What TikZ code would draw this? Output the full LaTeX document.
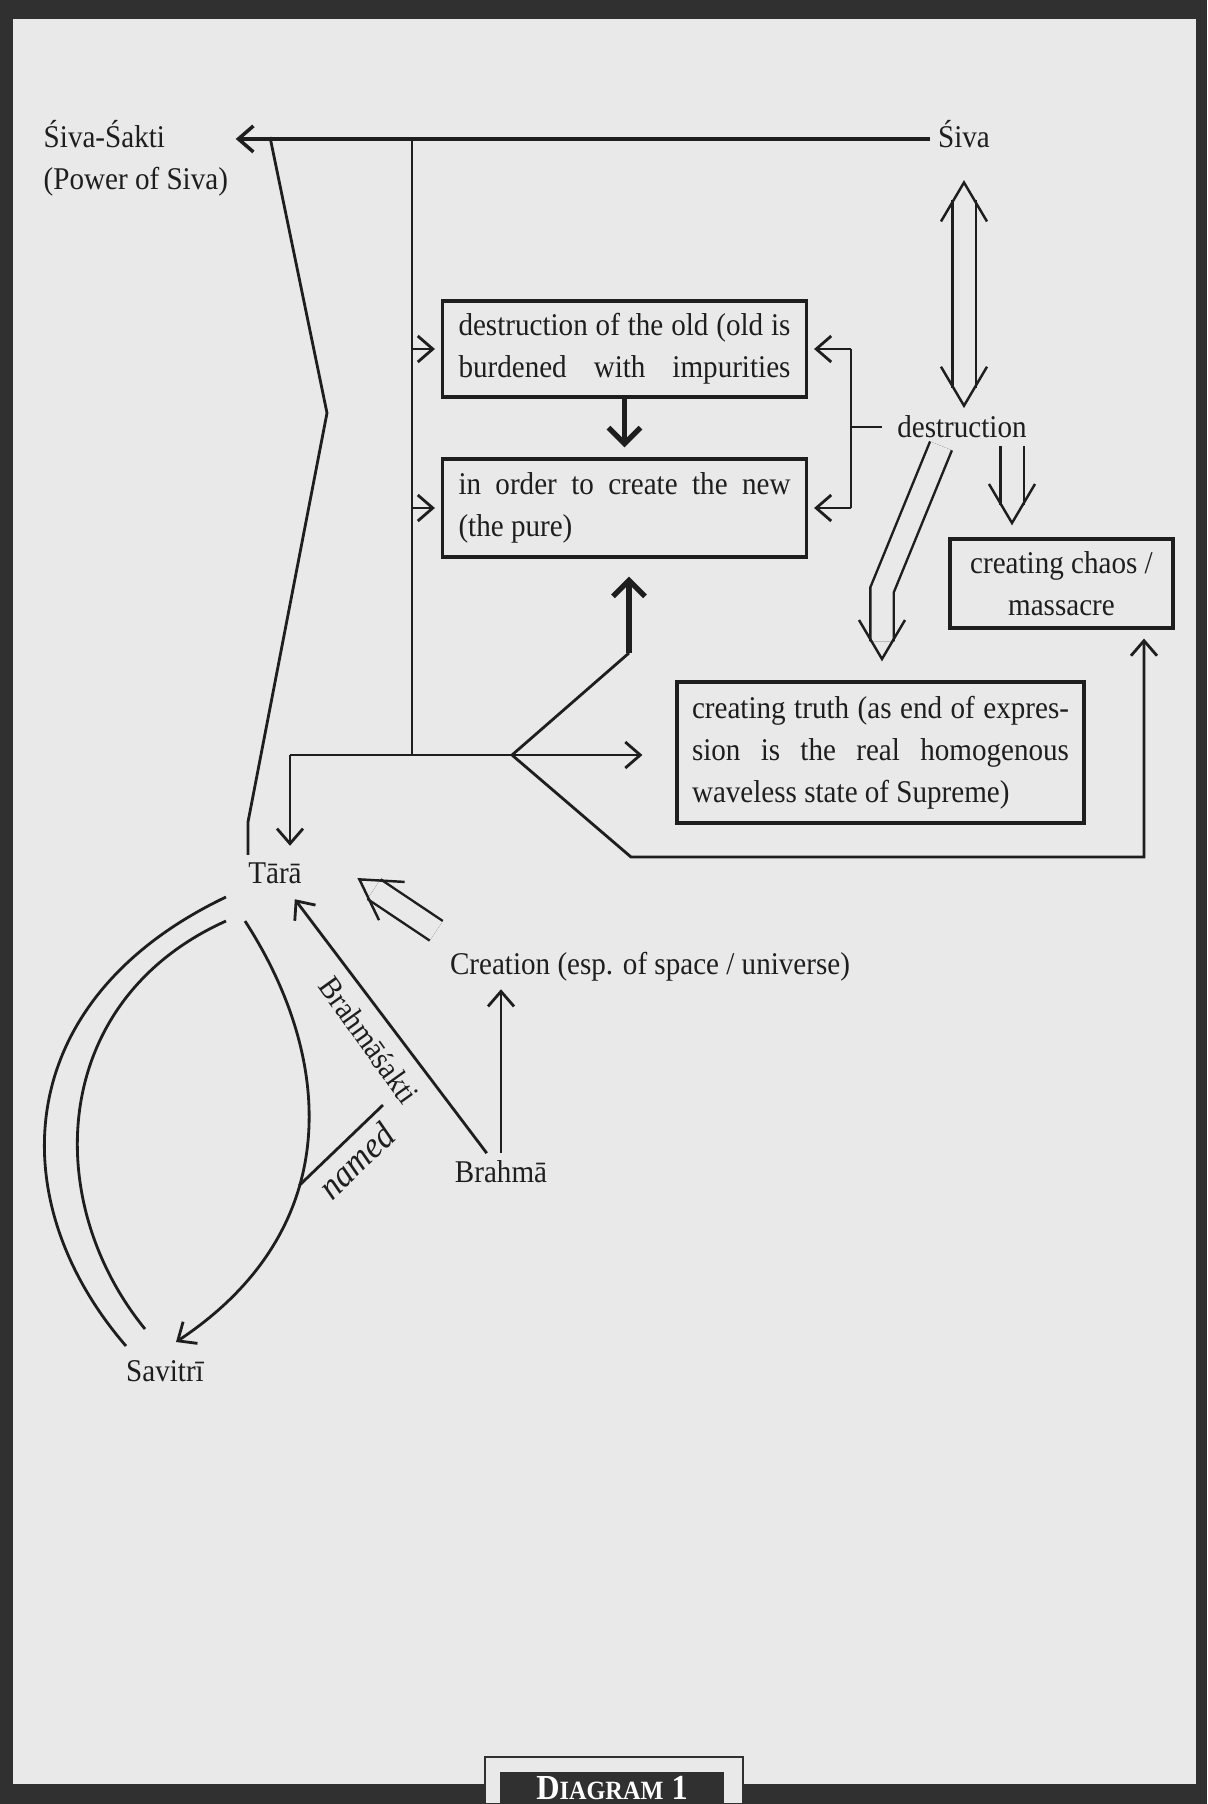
\documentclass[tikz,border=0pt]{standalone}
\usepackage{fontspec}
\setmainfont{Liberation Serif}[FakeStretch=0.92]
\usepackage{tikz}
\usetikzlibrary{arrows.meta, positioning, calc}
\definecolor{paper}{RGB}{233,233,233}
\definecolor{ink}{RGB}{30,30,30}
\definecolor{rim}{RGB}{48,48,48}
\tikzset{
  lbl/.style={inner sep=2pt, font=\fontsize{9}{12}\selectfont},
  tag/.style={inner sep=2pt, font=\fontsize{10.5}{12}\selectfont\itshape},
  stagebox/.style={rectangle, draw, line width=0.9pt, align=justify,
                   inner xsep=1.6mm, inner ysep=0.8mm, font=\fontsize{9}{12}\selectfont},
  arr/.style={-{Straight Barb[length=1.5mm, width=2.6mm]}, line width=0.8pt},
  thickarr/.style={-{Straight Barb[length=1.6mm, width=3.2mm]}, line width=1.5pt},
  % double shaft, open head
  hollow/.style={line width=0.7pt, dash pattern=on 0pt off 200cm,
                 -{Straight Barb[length=3.9mm, width=4.6mm]}, shorten >=#1,
                 preaction={draw, solid, -, double=paper, double distance=2.1mm,
                            shorten >=#1+2mm}},
  hollow/.default=0mm,
  hollowboth/.style 2 args={line width=0.7pt, dash pattern=on 0pt off 200cm,
                 {Straight Barb[length=3.9mm, width=4.6mm]}-{Straight Barb[length=3.9mm, width=4.6mm]},
                 shorten <=#1, shorten >=#2,
                 preaction={draw, solid, -, double=paper, double distance=2.1mm,
                            shorten <=#1+2mm, shorten >=#2+2mm}},
}

\begin{document}
\begin{tikzpicture}[x=0.1mm, y=0.1mm, color=ink]
  \useasboundingbox (0,0) rectangle (1207,-1804);
  % page and frame
  \fill[paper] (0,0) rectangle (1207,-1804);
  \fill[rim] (0,0) rectangle (1207,-19);
  \fill[rim] (0,0) rectangle (13,-1804);
  \fill[rim] (1196,0) rectangle (1207,-1804);
  \fill[rim] (0,-1784) rectangle (1207,-1804);

  % upper part
  \node[lbl, anchor=west, align=left] (sivasakti) at (36,-158) {Śiva-Śakti\\(Power of Siva)};
  \node[lbl, anchor=base] (siva) at (964,-147) {Śiva};
  \node[stagebox, text width=33.2mm, minimum height=9.6mm] (boxA) at (624.5,-349)
    {destruction of the old (old is\linebreak \makebox[\hsize][s]{burdened with impurities}};
  \node[stagebox, text width=33.2mm, minimum height=9.8mm] (boxB) at (624.5,-508)
    {in order to create the new\linebreak (the pure)};
  \node[lbl] (destr) at (962,-427) {destruction};
  \node[stagebox, align=center, minimum width=22.3mm, minimum height=8.9mm] (chaos) at (1061.5,-583.5)
    {creating chaos /\\massacre};
  \node[stagebox, text width=37.7mm, inner xsep=1.5mm, minimum height=14.1mm] (truth) at (880.5,-752.5)
    {creating truth (as end of expres-\linebreak sion is the real homogenous\linebreak waveless state of Supreme)};

  % lower part
  \node[lbl] (tara) at (275,-873) {Tārā};
  \node[lbl] (creation) at (650,-967) {Creation (esp. of space / universe)};
  \node[lbl] (brahma) at (501,-1172) {Brahmā};
  \node[lbl] (savitri) at (165,-1371) {Savitrī};
  \node[lbl, rotate=-54.5] (bsakti) at (369,-1040) {Brahmāśakti};

  \coordinate (trunk) at (412,-137);
  \coordinate (zz0) at (270,-137);
  \coordinate (zz1) at (327,-413);
  \coordinate (zz2) at (248,-822);
  \coordinate (tl) at (290,-755);
  \coordinate (jn) at (512,-755);
  \coordinate (ub) at (629,-653);
  \coordinate (lb1) at (631,-857);
  \coordinate (lb2) at (1144,-857);
  \coordinate (brtop) at (851,-349);
  \coordinate (brbot) at (851,-508);
  \coordinate (dbend) at (882,-590);
  \coordinate (namedend) at (383,-1105);

  \draw[arr, line width=1pt] (siva.mid west) -- (siva.mid west -| sivasakti.east);
  \draw[line width=0.8pt] (zz0) -- (zz1) -- (zz2) -- (zz2 |- tara.north);
  \draw[line width=0.8pt] (trunk) -- (trunk |- tl);
  \draw[arr, shorten >=0.6mm] (boxA.west -| trunk) -- (boxA.west);
  \draw[arr, shorten >=0.6mm] (boxB.west -| trunk) -- (boxB.west);
  \draw[thickarr, shorten >=1mm] (boxA) -- (boxB);

  \draw[line width=0.8pt] (brtop) -- (brbot);
  \draw[arr, shorten >=0.6mm] (brtop) -- (boxA.east);
  \draw[arr, shorten >=0.6mm] (brbot) -- (boxB.east);
  \draw[line width=0.8pt, shorten >=0.8mm] (brtop |- destr.west) -- (destr.west);

  \draw[hollowboth={2.5mm}{0mm}] (siva.south) -- (siva.south |- destr.north);
  \draw[hollow=1.2mm] ($(destr.south)+(50,0)$) -- ($(destr.south |- chaos.north)+(50,0)$);
  \draw[hollow=1.9mm] ($(destr.south)+(-21,0)$) -- (dbend) -- (dbend |- truth.north);

  \draw[arr, shorten >=3.3mm] (tl) -- (truth.west |- tl);
  \draw[arr, shorten >=0.9mm] (tl) -- (tl |- tara.north);
  \draw[line width=0.8pt] (jn) -- (ub);
  \draw[thickarr, shorten >=1.8mm] (ub) -- (ub |- boxB.south);
  \draw[arr, shorten >=0.9mm] (jn) -- (lb1) -- (lb2) -- (lb2 |- chaos.south);

  \draw[arr] (brahma.north) -- (brahma.north |- creation.south);
  \draw[arr, shorten >=1mm] (brahma) -- (tara);
  \draw[hollow] ([shift={(-6,14)}]creation.north west) -- ([shift={(48,-5)}]tara.east);

  \draw[line width=0.8pt] ([shift={(-49,-24)}]tara.center) .. controls (10,-1000) and (0,-1200) .. ([shift={(-39,25)}]savitri.center);
  \draw[line width=0.8pt] ([shift={(-49,-48)}]tara.center) .. controls (50,-1000) and (40,-1200) .. ([shift={(-20,42)}]savitri.center);
  \draw[arr] ([shift={(-30,-48)}]tara.center) .. controls (335,-1060) and (345,-1230) .. coordinate[pos=0.6] (namedpt) ([shift={(11,29)}]savitri.center);
  \draw[line width=0.8pt] (namedpt) -- node[tag, sloped, below] {named} (namedend);

  % caption tab
  \fill[paper, draw=rim, line width=0.8pt] (485,-1757) rectangle (743,-1804);
  \node[fill=rim, text=white, minimum width=22.4mm, minimum height=3.2mm, inner sep=0pt,
        font=\fontsize{10}{12}\selectfont\bfseries] (diagtag) at (612,-1788) {D{\fontsize{7.5}{9}\selectfont IAGRAM} 1};
\end{tikzpicture}
\end{document}
